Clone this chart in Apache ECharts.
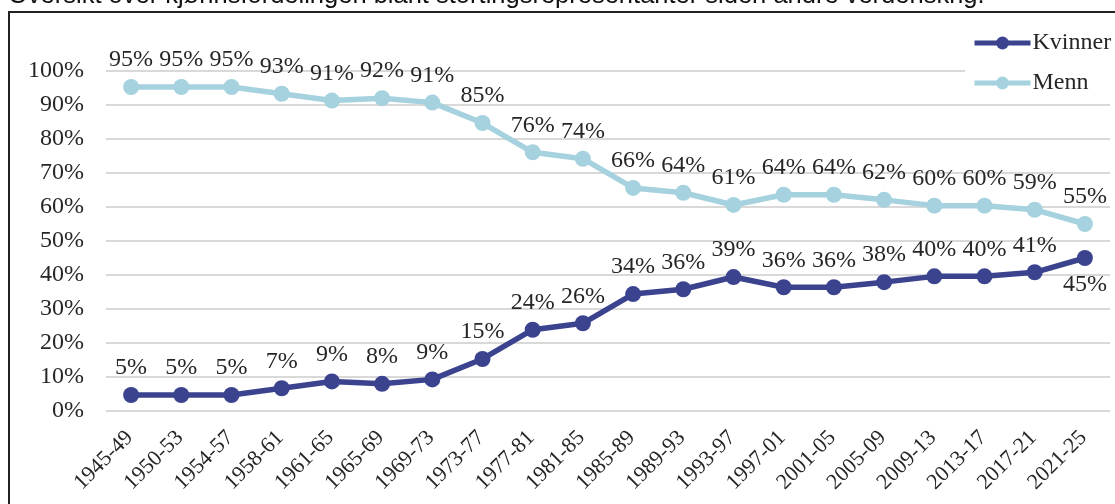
<!DOCTYPE html>
<html>
<head>
<meta charset="utf-8">
<script src="https://cdn.jsdelivr.net/npm/echarts@6/dist/echarts.min.js"></script>
<style>
  html, body { margin: 0; padding: 0; background: #fff; }
  #chart { width: 1115px; height: 504px; }
</style>
</head>
<body>
<div id="chart"></div>
<script>
// periods along the x axis
const periods = ['1945-49', '1950-53', '1954-57', '1958-61', '1961-65', '1965-69', '1969-73',
  '1973-77', '1977-81', '1981-85', '1985-89', '1989-93', '1993-97', '1997-01', '2001-05',
  '2005-09', '2009-13', '2013-17', '2017-21', '2021-25']

// share of seats in %
const kvinner = [4.7, 4.7, 4.7, 6.7, 8.7, 8.0, 9.3, 15.3, 23.9, 25.8, 34.4, 35.8, 39.4, 36.4, 36.4, 37.9, 39.6, 39.6, 40.8, 45.0]
const menn = [95.3, 95.3, 95.3, 93.3, 91.3, 92.0, 90.7, 84.7, 76.1, 74.2, 65.6, 64.2, 60.6, 63.6, 63.6, 62.1, 60.4, 60.4, 59.2, 55.0]

const title = 'Oversikt over kjønnsfordelingen blant stortingsrepresentanter siden andre verdenskrig.'

const serif = "'Liberation Serif', 'Times New Roman', serif"
const textColor = '#262626'

const chart = echarts.init(document.getElementById('chart'))

function makeSeries(name, values, color, belowLast) {
  return {
    name: name,
    type: 'line',
    data: values.map((v, i) => {
      if (belowLast && i === values.length - 1) {
        return { value: v, label: { position: 'bottom' } }
      }
      return v
    }),
    symbol: 'circle',
    symbolSize: 16,
    lineStyle: { width: 5.5, color: color },
    itemStyle: { color: color },
    label: {
      show: true,
      position: 'top',
      distance: 7,
      fontFamily: serif,
      fontSize: 24,
      color: textColor,
      formatter: p => Math.round(p.value) + '%'
    },
    emphasis: { disabled: true }
  }
}

chart.setOption({
  animation: false,
  textStyle: { fontFamily: serif },
  graphic: [
    {
      type: 'text',
      left: 8,
      top: -17,
      style: {
        text: title,
        font: "25.5px 'Liberation Sans', Arial, sans-serif",
        fill: '#111'
      }
    },
    {
      type: 'rect',
      shape: { x: 9, y: 12, width: 1140, height: 520 },
      style: { fill: 'none', stroke: '#222', lineWidth: 2 },
      z: -1
    }
  ],
  legend: {
    orient: 'vertical',
    left: 965,
    top: 24,
    padding: 7,
    backgroundColor: '#fff',
    itemWidth: 56,
    itemHeight: 16,
    itemGap: 16,
    lineStyle: { width: 5 },
    textStyle: { fontFamily: serif, fontSize: 24, color: textColor, lineHeight: 24, padding: [0, 0, 0, -3] },
    data: ['Kvinner', 'Menn']
  },
  grid: {
    left: 106,
    right: 5,
    top: 71,
    bottom: 93
  },
  xAxis: {
    type: 'category',
    data: periods,
    boundaryGap: true,
    axisLine: { show: false },
    axisTick: { show: false },
    axisLabel: {
      rotate: 45,
      margin: 22,
      padding: [0, 2, 0, 0],
      interval: 0,
      fontFamily: serif,
      fontSize: 22,
      color: textColor
    }
  },
  yAxis: {
    type: 'value',
    min: 0,
    max: 100,
    interval: 10,
    axisLine: { show: false },
    axisTick: { show: false },
    splitLine: { lineStyle: { color: '#d9d9d9', width: 2 } },
    axisLabel: {
      margin: 22,
      fontFamily: serif,
      fontSize: 24,
      color: textColor,
      formatter: '{value}%'
    }
  },
  series: [
    makeSeries('Kvinner', kvinner, '#3b438f', true),
    makeSeries('Menn', menn, '#a6d2df', false)
  ]
})
</script>
</body>
</html>
